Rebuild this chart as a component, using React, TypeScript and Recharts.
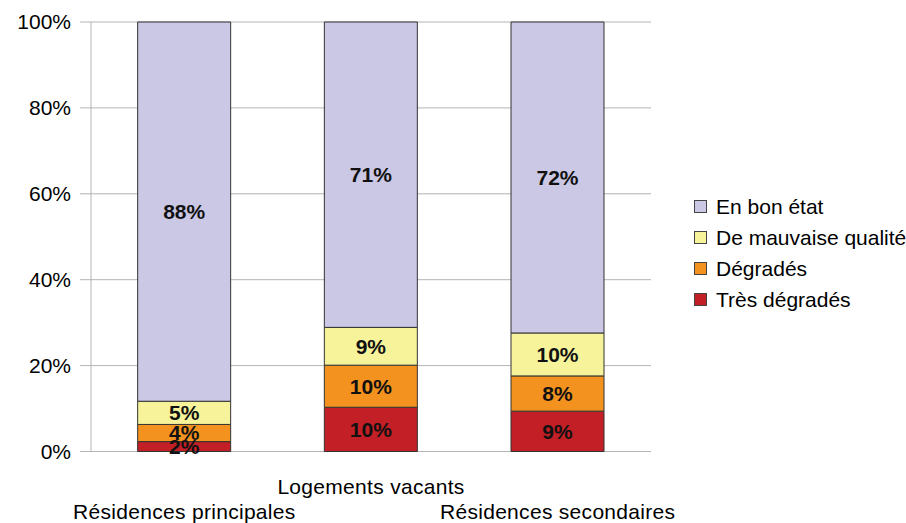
import { Bar, BarChart, CartesianGrid, LabelList, XAxis, YAxis } from 'recharts';

const categories = ['Résidences principales', 'Logements vacants', 'Résidences secondaires'];
const tresDegrades = [2.3, 10.3, 9.4];
const degrades = [4.0, 9.8, 8.2];
const mauvaiseQualite = [5.4, 8.8, 10.0];
const bonEtat = [88.3, 71.1, 72.4];
const yTicks = [0, 20, 40, 60, 80, 100];

const series = [
  { key: 'tresDegrades', name: 'Très dégradés', color: '#c21f26' },
  { key: 'degrades', name: 'Dégradés', color: '#f4921f' },
  { key: 'mauvaiseQualite', name: 'De mauvaise qualité', color: '#f6f39a' },
  { key: 'bonEtat', name: 'En bon état', color: '#cbc8e5' },
];

const chartData = categories.map((name, i) => ({
  name,
  tresDegrades: tresDegrades[i],
  degrades: degrades[i],
  mauvaiseQualite: mauvaiseQualite[i],
  bonEtat: bonEtat[i],
}));

const FONT = '"Liberation Sans", Arial, sans-serif';

// staggered category labels, middle one sits higher
const CategoryTick = (props: any) => {
  const { x, y, payload, index } = props;
  const dy = index % 2 === 1 ? 35 : 60;
  return (
    <text
      x={x}
      y={y + dy}
      textAnchor="middle"
      dominantBaseline="central"
      fontSize={21}
      letterSpacing={0.3}
      fill="#000"
      fontFamily={FONT}
    >
      {payload.value}
    </text>
  );
};

const App = () => {
  return (
    <div style={{ position: 'absolute', left: 0, top: 0, width: 906, height: 523, background: '#fff', fontFamily: FONT }}>
      <BarChart
        width={906}
        height={523}
        data={chartData}
        margin={{ top: 22, right: 255, bottom: 0, left: 0 }}
        barCategoryGap="25%"
      >
        <CartesianGrid vertical={false} stroke="#b3b3b3" />
        <XAxis
          xAxisId="grid"
          type="number"
          domain={[0, 3]}
          ticks={[0, 1, 2, 3]}
          height={0}
          stroke="#b3b3b3"
          tickSize={10}
          tick={() => <g />}
          allowDataOverflow
        />
        <XAxis
          dataKey="name"
          height={71.5}
          axisLine={false}
          tickLine={false}
          tickSize={0}
          tickMargin={0}
          interval={0}
          tick={<CategoryTick />}
        />
        <YAxis
          domain={[0, 100]}
          ticks={yTicks}
          width={91}
          stroke="#b3b3b3"
          tickSize={11}
          tickMargin={9}
          tickFormatter={(v: number) => `${v}%`}
          tick={{ fill: '#000', fontSize: 21, fontFamily: FONT }}
        />
        <YAxis yAxisId="r" orientation="right" domain={[0, 100]} width={0} tick={false} tickLine={false} stroke="#b3b3b3" />
        {series.map((s) => (
          <Bar
            key={s.key}
            dataKey={s.key}
            name={s.name}
            stackId="a"
            fill={s.color}
            stroke="#333"
            strokeWidth={1}
            isAnimationActive={false}
          >
            <LabelList
              dataKey={s.key}
              position="center"
              formatter={(v: any) => `${Math.round(Number(v))}%`}
              style={{ fill: '#111', fontWeight: 'bold', fontSize: 21, fontFamily: FONT }}
            />
          </Bar>
        ))}
      </BarChart>
      <div style={{ position: 'absolute', left: 694, top: 191 }}>
        {[...series].reverse().map((s) => (
          <div key={s.key} style={{ display: 'flex', alignItems: 'center', height: 31, fontSize: 21, color: '#000' }}>
            <span
              style={{
                display: 'inline-block',
                width: 11,
                height: 11,
                background: s.color,
                border: '1px solid #444',
                marginRight: 9,
              }}
            />
            <span style={{ whiteSpace: 'nowrap' }}>{s.name}</span>
          </div>
        ))}
      </div>
    </div>
  );
};

export default App;
